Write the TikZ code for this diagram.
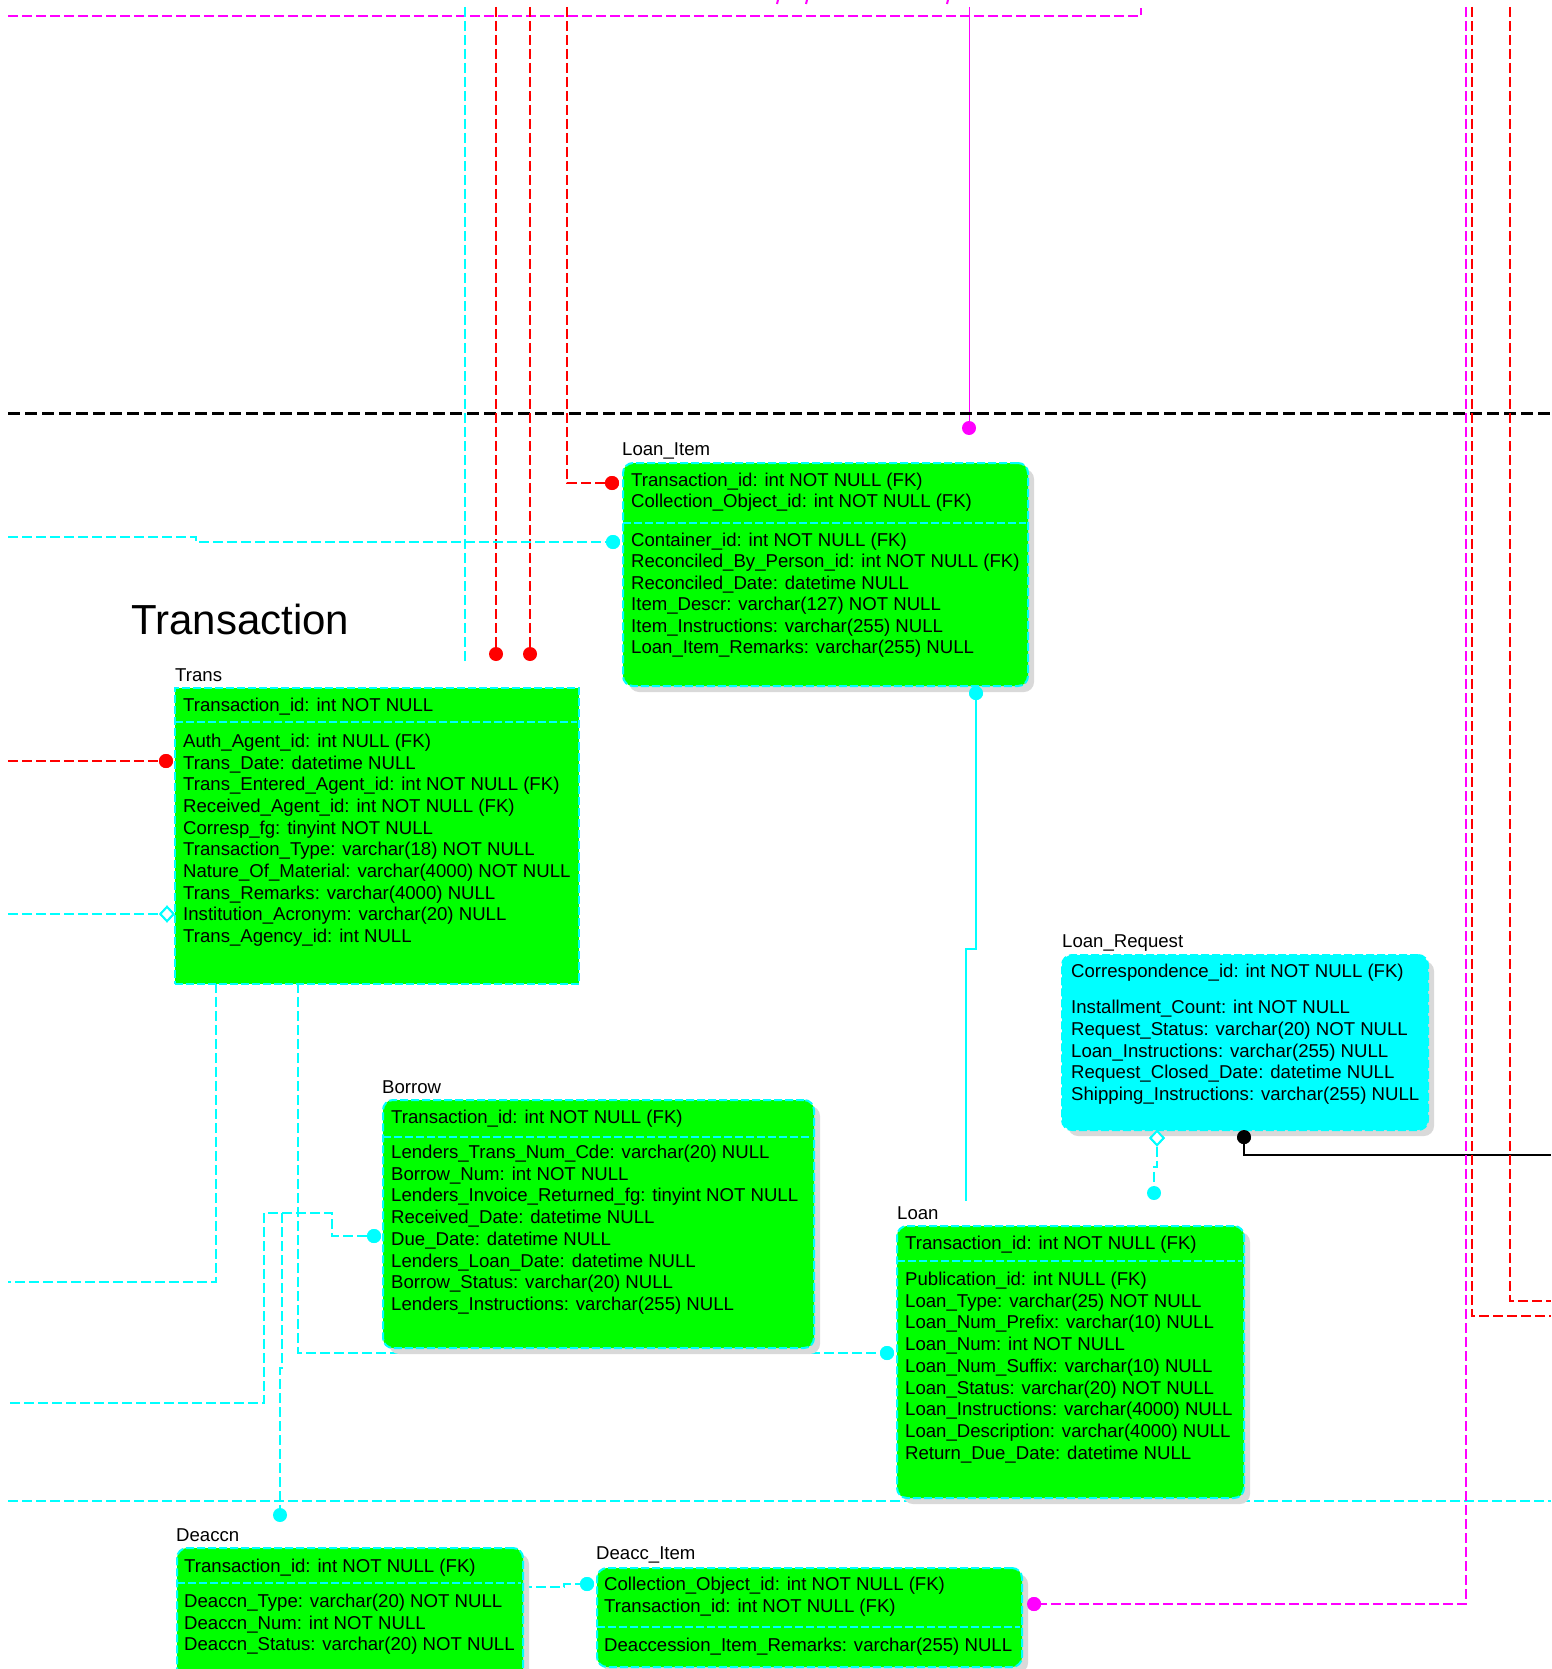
\documentclass[tikz,border=0pt]{standalone}
\usepackage{fontspec}
\setmainfont{Liberation Sans}
\usetikzlibrary{shapes.geometric,shadows}
\definecolor{xcyan}{RGB}{0,255,255}
\definecolor{xgreen}{RGB}{0,255,0}
\definecolor{xmag}{RGB}{255,0,255}
\definecolor{xred}{RGB}{255,0,0}
\definecolor{shgray}{RGB}{217,217,217}
\newcommand{\rowfont}{\fontsize{18.6}{21.6}\selectfont}
\tikzset{
  conn/.style={line width=2pt, dash pattern=on 10pt off 4pt},
  cyanc/.style={conn, draw=xcyan},
  redc/.style={conn, draw=xred},
  magc/.style={conn, draw=xmag},
  tbl/.style={draw=xcyan, line width=2pt, dash pattern=on 8pt off 3pt, fill=xgreen, inner sep=0pt, anchor=north west, rectangle},
  rtbl/.style={tbl, rounded corners=10pt, drop shadow={shadow xshift=6pt, shadow yshift=-6pt, fill=shgray, opacity=1}},
  sepline/.style={draw=xcyan, line width=1.5pt, dash pattern=on 8pt off 3pt},
  rowt/.style={anchor=base west, inner sep=0pt, font=\rowfont, text=black},
  lbl/.style={anchor=base west, inner sep=0pt, font=\rowfont, text=black},
  dotbase/.style={circle, inner sep=0pt, minimum size=14pt, draw=none},
  cdot/.style={dotbase, fill=xcyan},
  rdot/.style={dotbase, fill=xred},
  mdot/.style={dotbase, fill=xmag},
  kdot/.style={dotbase, fill=black},
  cdia/.style={diamond, draw=xcyan, fill=white, line width=2pt, inner sep=0pt, minimum width=14pt, minimum height=15pt}
}
\begin{document}
\begin{tikzpicture}[x=1pt,y=-1pt]
\useasboundingbox (0,0) rectangle (1551,1669);
\clip (0,0) rectangle (1551,1669);
\fill[white] (0,0) rectangle (1551,1669);

% ---------- end points and markers ----------
\coordinate (mtL) at (8,16);
\coordinate (mtR) at (1141,16);
\coordinate (mtRu) at (1141,8);
\coordinate (mvT) at (969,7);
\node[mdot] (md1) at (969,428) {};
\coordinate (blL) at (8,413);
\coordinate (blR) at (1551,413);
\coordinate (cvT) at (465,7);
\coordinate (cvB) at (465,663);
\coordinate (rt1) at (496,7);
\coordinate (rt2) at (530,7);
\coordinate (rt3) at (567,7);
\node[rdot] (rd1) at (496,654) {};
\node[rdot] (rd2) at (530,654) {};
\node[rdot] (rd3) at (612,483) {};
\coordinate (cl1) at (8,537);
\node[cdot] (cd1) at (613,542) {};
\coordinate (rl1) at (8,761);
\node[rdot] (rd4) at (166,761) {};
\coordinate (cl2) at (8,914);
\node[cdia] (dia1) at (167,914) {};
\coordinate (ta) at (216,983);
\coordinate (taL) at (8,1282);
\coordinate (tb) at (298,983);
\node[cdot] (cdLoan) at (887,1353) {};
\node[cdot] (cdBorrow) at (374,1236) {};
\coordinate (tcL) at (8,1403);
\node[cdot] (cdDeaccn) at (280,1515) {};
\coordinate (hL) at (8,1501);
\coordinate (hR) at (1551,1501);
\node[cdot] (cdLI) at (976,693) {};
\coordinate (liEnd) at (966,1201);
\node[cdia] (dia2) at (1157,1138) {};
\node[cdot] (cdLR) at (1154,1193) {};
\node[kdot] (kd1) at (1244,1137) {};
\coordinate (kR) at (1551,1155);
\coordinate (mr1) at (1466,7);
\node[mdot] (md2) at (1034,1604) {};
\coordinate (rr1) at (1472,7);
\coordinate (rr1e) at (1551,1316);
\coordinate (rr2) at (1510,7);
\coordinate (rr2e) at (1551,1301);
\coordinate (dcS) at (522,1587);
\node[cdot] (cdDI) at (587,1584) {};

% ---------- connectors ----------
\draw[magc] (mtL) -- (mtR) -- (mtRu);
\draw[xmag, line width=2pt] (778,0) -- (777,4) (807,0) -- (806,4) (948,0) -- (947,4);
\draw[xmag, line width=1pt] (mvT) -- (md1);
\draw[black, line width=3pt, dash pattern=on 12pt off 5pt] (blL) -- (blR);
\draw[cyanc, line width=1.5pt] (cvT) -- (cvB);
\draw[redc] (rt1) -- (rd1);
\draw[redc] (rt2) -- (rd2);
\draw[redc] (rt3) |- (rd3);
\draw[cyanc] (cl1) -- (196,537) -- (196,542) -- (cd1);
\draw[redc] (rl1) -- (rd4);
\draw[cyanc] (cl2) -- (dia1);
\draw[cyanc] (ta) |- (taL);
\draw[cyanc] (tb) |- (cdLoan);
\draw[cyanc] (cdBorrow) -- (332,1236) -- (332,1213) -- (264,1213) |- (tcL);
\draw[cyanc] (282,1213) -- (282,1368) -- (280,1368) -- (cdDeaccn);
\draw[cyanc] (hL) -- (hR);
\draw[xcyan, line width=2pt] (cdLI) -- (976,949) -- (966,949) -- (liEnd);
\draw[cyanc] (dia2) -- (1157,1167) -- (1154,1167) -- (cdLR);
\draw[black, line width=2.5pt] (kd1) |- (kR);
\draw[magc] (mr1) |- (md2);
\draw[redc] (rr1) |- (rr1e);
\draw[redc] (rr2) |- (rr2e);
\draw[cyanc] (dcS) -- (564,1587) -- (564,1584) -- (cdDI);

% ---------- title ----------
\node[anchor=base west, inner sep=0pt, font=\fontsize{42}{50}\selectfont] (title) at (131,634) {Transaction};

% ---------- Loan_Item ----------
\node[lbl] (liLbl) at (622,455) {Loan\_Item};
\node[rtbl, minimum width=405pt, minimum height=223pt] (loanitem) at (622,462) {};
\draw[sepline] (623,523) -- (1026,523);
\foreach \t [count=\i from 0] in {Transaction\_id: int NOT NULL (FK), Collection\_Object\_id: int NOT NULL (FK)}
  {\node[rowt] (lih\i) at (631,{486.5+\i*21.2}) {\t};}
\foreach \t [count=\i from 0] in {Container\_id: int NOT NULL (FK), Reconciled\_By\_Person\_id: int NOT NULL (FK), Reconciled\_Date: datetime NULL, Item\_Descr: varchar(127) NOT NULL, Item\_Instructions: varchar(255) NULL, Loan\_Item\_Remarks: varchar(255) NULL}
  {\node[rowt] (lib\i) at (631,{546.5+\i*21.4}) {\t};}

% ---------- Trans ----------
\node[lbl] (trLbl) at (175,681) {Trans};
\node[tbl, minimum width=404pt, minimum height=296pt] (trans) at (174,687) {};
\draw[sepline] (175,722) -- (577,722);
\node[rowt] (trh0) at (183,711.5) {Transaction\_id: int NOT NULL};
\foreach \t [count=\i from 0] in {Auth\_Agent\_id: int NULL (FK), Trans\_Date: datetime NULL, Trans\_Entered\_Agent\_id: int NOT NULL (FK), Received\_Agent\_id: int NOT NULL (FK), Corresp\_fg: tinyint NOT NULL, Transaction\_Type: varchar(18) NOT NULL, Nature\_Of\_Material: varchar(4000) NOT NULL, Trans\_Remarks: varchar(4000) NULL, Institution\_Acronym: varchar(20) NULL, Trans\_Agency\_id: int NULL}
  {\node[rowt] (trb\i) at (183,{747.5+\i*21.67}) {\t};}

% ---------- Borrow ----------
\node[lbl] (boLbl) at (382,1093) {Borrow};
\node[rtbl, minimum width=431pt, minimum height=248pt] (borrow) at (382,1099) {};
\draw[sepline] (383,1137) -- (812,1137);
\node[rowt] (boh0) at (391,1123.5) {Transaction\_id: int NOT NULL (FK)};
\foreach \t [count=\i from 0] in {Lenders\_Trans\_Num\_Cde: varchar(20) NULL, Borrow\_Num: int NOT NULL, Lenders\_Invoice\_Returned\_fg: tinyint NOT NULL, Received\_Date: datetime NULL, Due\_Date: datetime NULL, Lenders\_Loan\_Date: datetime NULL, Borrow\_Status: varchar(20) NULL, Lenders\_Instructions: varchar(255) NULL}
  {\node[rowt] (bob\i) at (391,{1158.5+\i*21.7}) {\t};}

% ---------- Loan_Request ----------
\node[lbl] (lrLbl) at (1062,947) {Loan\_Request};
\node[rtbl, fill=xcyan, minimum width=366pt, minimum height=175pt] (loanreq) at (1061,954) {};
\node[rowt] (lrh0) at (1071,977.5) {Correspondence\_id: int NOT NULL (FK)};
\foreach \t [count=\i from 0] in {Installment\_Count: int NOT NULL, Request\_Status: varchar(20) NOT NULL, Loan\_Instructions: varchar(255) NULL, Request\_Closed\_Date: datetime NULL, Shipping\_Instructions: varchar(255) NULL}
  {\node[rowt] (lrb\i) at (1071,{1013.5+\i*21.75}) {\t};}

% ---------- Loan ----------
\node[lbl] (loLbl) at (897,1219) {Loan};
\node[rtbl, minimum width=347pt, minimum height=272pt] (loan) at (896,1225) {};
\draw[sepline] (897,1261) -- (1242,1261);
\node[rowt] (loh0) at (905,1249.5) {Transaction\_id: int NOT NULL (FK)};
\foreach \t [count=\i from 0] in {Publication\_id: int NULL (FK), Loan\_Type: varchar(25) NOT NULL, Loan\_Num\_Prefix: varchar(10) NULL, Loan\_Num: int NOT NULL, Loan\_Num\_Suffix: varchar(10) NULL, Loan\_Status: varchar(20) NOT NULL, Loan\_Instructions: varchar(4000) NULL, Loan\_Description: varchar(4000) NULL, Return\_Due\_Date: datetime NULL}
  {\node[rowt] (lob\i) at (905,{1285.5+\i*21.7}) {\t};}

% ---------- Deaccn ----------
\node[lbl] (daLbl) at (176,1541) {Deaccn};
\node[rtbl, minimum width=346pt, minimum height=160pt] (deaccn) at (176,1547) {};
\draw[sepline] (177,1583) -- (521,1583);
\node[rowt] (dah0) at (184,1572.5) {Transaction\_id: int NOT NULL (FK)};
\foreach \t [count=\i from 0] in {Deaccn\_Type: varchar(20) NOT NULL, Deaccn\_Num: int NOT NULL, Deaccn\_Status: varchar(20) NOT NULL}
  {\node[rowt] (dab\i) at (184,{1607.5+\i*21.5}) {\t};}

% ---------- Deacc_Item ----------
\node[lbl] (diLbl) at (596,1559) {Deacc\_Item};
\node[rtbl, minimum width=425pt, minimum height=99pt] (deaccitem) at (596,1567) {};
\draw[sepline] (597,1627) -- (1020,1627);
\node[rowt] (dih0) at (604,1590.5) {Collection\_Object\_id: int NOT NULL (FK)};
\node[rowt] (dih1) at (604,1612.5) {Transaction\_id: int NOT NULL (FK)};
\node[rowt] (dib0) at (604,1651.5) {Deaccession\_Item\_Remarks: varchar(255) NULL};

% ---------- markers on top ----------
\node[rdot] at (rd3) {};
\node[cdot] at (cd1) {};
\node[cdot] at (cdLI) {};
\node[cdot] at (cdBorrow) {};
\node[cdot] at (cdLoan) {};
\node[cdot] at (cdDI) {};
\node[mdot] at (md2) {};
\node[rdot] at (rd4) {};
\node[cdia] at (dia1) {};
\node[cdia] at (dia2) {};
\node[kdot] at (kd1) {};
\end{tikzpicture}
\end{document}
